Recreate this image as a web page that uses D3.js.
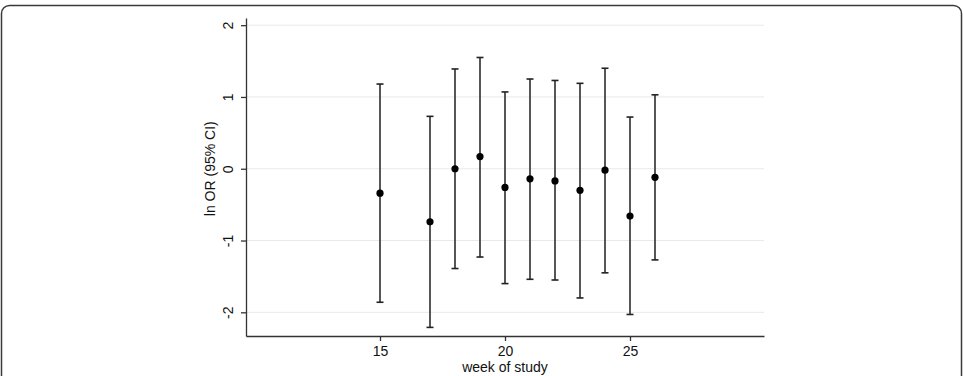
<!DOCTYPE html>
<html>
<head>
<meta charset="utf-8">
<script src="https://cdn.jsdelivr.net/npm/d3@7"></script>
<style>
  body { margin: 0; background: #fff; }
  svg { display: block; font-family: "Liberation Sans", Arial, sans-serif; }
</style>
</head>
<body>
<div id="chart"></div>
<script>
// data
var weeks = [15, 17, 18, 19, 20, 21, 22, 23, 24, 25, 26];
var lnOR  = [-0.34, -0.74, 0.00, 0.17, -0.26, -0.14, -0.17, -0.30, -0.02, -0.66, -0.12];
var upper = [1.18, 0.73, 1.39, 1.55, 1.07, 1.25, 1.23, 1.19, 1.40, 0.72, 1.03];
var lower = [-1.86, -2.21, -1.39, -1.23, -1.60, -1.54, -1.55, -1.80, -1.45, -2.03, -1.27];
var xTicks = [15, 20, 25];
var yTicks = [-2, -1, 0, 1, 2];

var W = 963, H = 376;
var margin = { top: 18, right: 199, bottom: 40, left: 246 },
    width = W - margin.left - margin.right,
    height = H - margin.top - margin.bottom;

var svg = d3.select('#chart')
  .append('svg')
    .attr('width', W)
    .attr('height', H);

// outer rounded frame
svg.append('rect')
  .attr('x', 1.5).attr('y', 5.5)
  .attr('width', W - 3).attr('height', H + 20)
  .attr('rx', 8)
  .attr('fill', 'none')
  .attr('stroke', '#3a3a3a')
  .attr('stroke-width', 1.5);

var g = svg.append('g')
  .attr('transform', 'translate(' + margin.left + ',' + margin.top + ')');

var x = d3.scaleLinear()
  .domain([9.64, 30.36])
  .range([0, width]);

var y = d3.scaleLinear()
  .domain([-2.33, 2.1])
  .range([height, 0]);

// gridlines
g.append('g')
  .selectAll('line')
  .data(yTicks)
  .enter()
  .append('line')
    .attr('x1', 0)
    .attr('x2', width)
    .attr('y1', d => y(d))
    .attr('y2', d => y(d))
    .attr('stroke', '#e6eaea')
    .attr('stroke-width', 1);

// x axis
var xAxis = g.append('g')
  .attr('transform', 'translate(0,' + height + ')')
  .call(d3.axisBottom(x).tickValues(xTicks).tickFormat(d => String(d))
    .tickSize(5).tickPadding(5).tickSizeOuter(0));
xAxis.selectAll('text').attr('font-size', '14px').attr('fill', '#111');

// y axis, labels turned on their side
var yAxis = g.append('g')
  .call(d3.axisLeft(y).tickValues(yTicks).tickFormat(d => String(d))
    .tickSize(5).tickSizeOuter(0));
yAxis.selectAll('text')
  .attr('font-size', '14px')
  .attr('fill', '#111')
  .attr('transform', 'rotate(-90)')
  .attr('text-anchor', 'middle')
  .attr('x', 0)
  .attr('y', -13)
  .attr('dy', 0);

g.selectAll('.domain, .tick line').attr('stroke', '#333').attr('stroke-width', 1.3);

// error bars
var bars = g.append('g');
weeks.forEach(function(w, i) {
  bars.append('line')
    .attr('x1', x(w)).attr('x2', x(w))
    .attr('y1', y(upper[i])).attr('y2', y(lower[i]))
    .attr('stroke', '#444').attr('stroke-width', 1.8);
  [upper[i], lower[i]].forEach(function(v) {
    bars.append('line')
      .attr('x1', x(w) - 3.5).attr('x2', x(w) + 3.5)
      .attr('y1', y(v)).attr('y2', y(v))
      .attr('stroke', '#222').attr('stroke-width', 1.6);
  });
});

// points
g.append('g')
  .selectAll('circle')
  .data(weeks)
  .enter()
  .append('circle')
    .attr('cx', d => x(d))
    .attr('cy', (d, i) => y(lnOR[i]))
    .attr('r', 3.6)
    .attr('fill', '#000');

// axis titles
g.append('text')
  .attr('transform', 'translate(-31,' + y(0) + ') rotate(-90)')
  .attr('text-anchor', 'middle')
  .attr('font-size', '14px')
  .attr('fill', '#111')
  .text('ln OR (95% CI)');

g.append('text')
  .attr('x', x(20))
  .attr('y', height + 36)
  .attr('text-anchor', 'middle')
  .attr('font-size', '14px')
  .attr('fill', '#111')
  .text('week of study');
</script>
</body>
</html>
